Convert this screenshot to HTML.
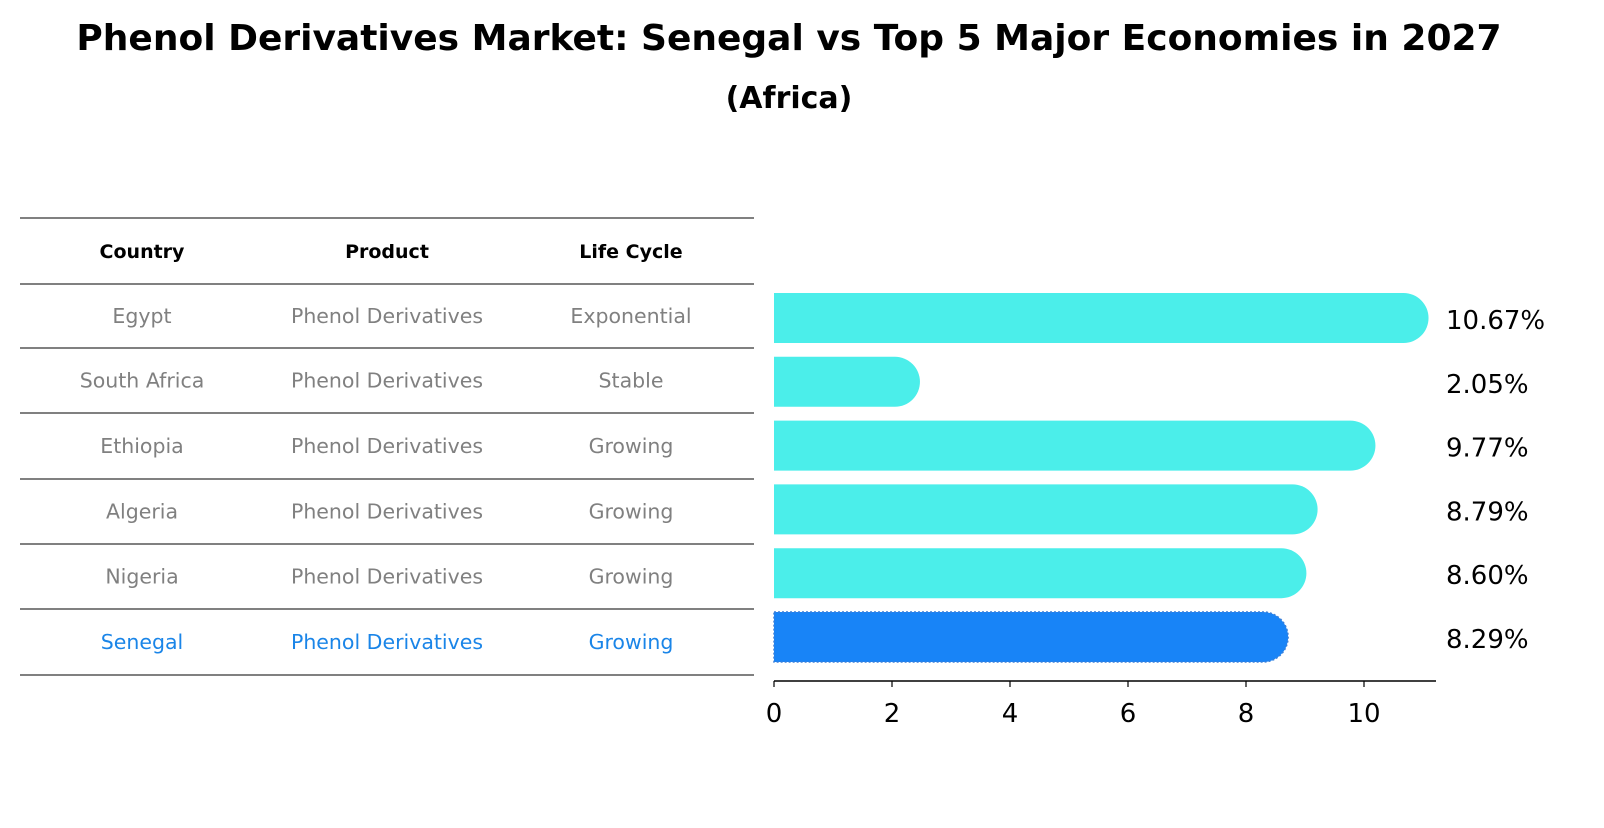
<!DOCTYPE html>
<html><head><meta charset="utf-8">
<style>
body{margin:0;background:#fff;width:1604px;height:823px;overflow:hidden;font-family:"Liberation Sans","DejaVu Sans",sans-serif;}
svg text{font-family:"DejaVu Sans","Liberation Sans",sans-serif;}
</style></head>
<body>
<svg width="1604" height="823" viewBox="0 0 1604 823">
<text x="789" y="50" text-anchor="middle" font-size="36" font-weight="bold">Phenol Derivatives Market: Senegal vs Top 5 Major Economies in 2027</text>
<text x="789" y="108" text-anchor="middle" font-size="30" font-weight="bold">(Africa)</text>
<g id="table"></g>
<g id="bars"></g>
</svg>
<script>
const countries=["Egypt","South Africa","Ethiopia","Algeria","Nigeria","Senegal"];
const products=["Phenol Derivatives","Phenol Derivatives","Phenol Derivatives","Phenol Derivatives","Phenol Derivatives","Phenol Derivatives"];
const lifeCycles=["Exponential","Stable","Growing","Growing","Growing","Growing"];
const values=[10.67,2.05,9.77,8.79,8.60,8.29];
const valueLabels=["10.67%","2.05%","9.77%","8.79%","8.60%","8.29%"];
const ticks=[0,2,4,6,8,10];

const NS="http://www.w3.org/2000/svg";
function mk(tag,attrs,parent){const e=document.createElementNS(NS,tag);for(const k in attrs)e.setAttribute(k,attrs[k]);parent.appendChild(e);return e;}
const tbl=document.getElementById('table');
const rowLines=[218,284,348,413,479,544,609,675];
rowLines.forEach(y=>{const l=mk('line',{x1:20,x2:754,y1:y,y2:y,stroke:'#000','stroke-width':1},tbl);

});
const colX=[142,387,631];
["Country","Product","Life Cycle"].forEach((h,i)=>{const t=mk('text',{x:colX[i],y:258,'text-anchor':'middle','font-size':19,'font-weight':'bold'},tbl);t.textContent=h;

});
countries.forEach((c,r)=>{const y=(rowLines[r+1]+rowLines[r+2])/2+7;const col=c==="Senegal"?"#1a85e8":"#808080";
[c,products[r],lifeCycles[r]].forEach((v,i)=>{const t=mk('text',{x:colX[i],y:y,'text-anchor':'middle','font-size':20.5,fill:col},tbl);t.textContent=v;

});});

const g=document.getElementById('bars');
const x0=774,pxPer=59,barH=50,y0=318,step=63.8,r=25;
const xs=v=>x0+v*pxPer;
values.forEach((v,i)=>{const cy=y0+i*step;const xe=xs(v);const top=cy-barH/2;
const sen=countries[i]==="Senegal";
const p=mk('path',{d:`M${x0},${top} H${xe} A${r},${r} 0 0 1 ${xe},${top+barH} H${x0} Z`,fill:sen?'#1884f7':'#4beeea',stroke:sen?'#3a7fd8':'none','stroke-dasharray':sen?'2,2':'none','stroke-width':sen?1.5:0},g);


const t=mk('text',{x:1446,y:cy+11,'font-size':26},g);t.textContent=valueLabels[i];

});
const ax=mk('line',{x1:x0,x2:1436,y1:681,y2:681,stroke:'#000','stroke-width':1.5},g);


ticks.forEach(tv=>{const x=xs(tv);const l=mk('line',{x1:x,x2:x,y1:681,y2:687,stroke:'#000','stroke-width':1.2},g);


const t=mk('text',{x:x,y:722,'text-anchor':'middle','font-size':26},g);t.textContent=tv;

});
</script>
</body></html>
